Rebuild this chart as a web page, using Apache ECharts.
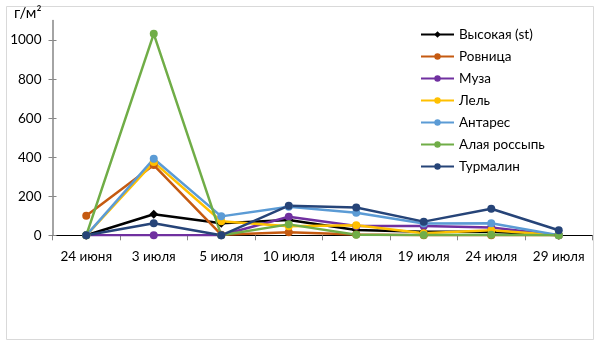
<!DOCTYPE html>
<html>
<head>
<meta charset="utf-8">
<script src="https://cdn.jsdelivr.net/npm/echarts@6/dist/echarts.min.js"></script>
<style>
  html, body { margin: 0; padding: 0; background: #fff; }
  #chart { width: 602px; height: 341px; }
</style>
</head>
<body>
<div id="chart"></div>
<script>
// Sampling dates
const dates = ['24 июня', '3 июля', '5 июля', '10 июля', '14 июля', '19 июля', '24 июля', '29 июля'];

// Biomass per variety, g/m²
const vysokaya    = [0, 108, 62, 78, 27, 18, 18, 0];
const rovnitsa    = [100, 360, 3, 15, 4, 0, 0, 0];
const muza        = [0, 0, 0, 95, 48, 48, 40, 0];
const lel         = [0, 375, 72, 46, 51, 10, 26, 0];
const antares     = [0, 392, 97, 146, 116, 60, 62, 0];
const alayaRossyp = [0, 1032, 0, 56, 3, 2, 3, 0];
const turmalin    = [0, 62, 0, 152, 142, 70, 136, 26];

const yTicks = [0, 200, 400, 600, 800, 1000];

const seriesDefs = [
  { name: 'Высокая (st)', data: vysokaya, color: '#000000', symbol: 'diamond', size: 9 },
  { name: 'Ровница', data: rovnitsa, color: '#C55A11', symbol: 'circle', size: 8 },
  { name: 'Муза', data: muza, color: '#7030A0', symbol: 'circle', size: 8 },
  { name: 'Лель', data: lel, color: '#FFC000', symbol: 'circle', size: 8 },
  { name: 'Антарес', data: antares, color: '#5B9BD5', symbol: 'circle', size: 8 },
  { name: 'Алая россыпь', data: alayaRossyp, color: '#70AD47', symbol: 'circle', size: 8 },
  { name: 'Турмалин', data: turmalin, color: '#264478', symbol: 'circle', size: 8 }
];

const FONT = 'Lato';

const chart = echarts.init(document.getElementById('chart'), null, { renderer: 'canvas' });

const yAxisBase = {
  type: 'value',
  min: 0,
  max: 1100,
  interval: 200,
  splitLine: { show: false }
};

chart.setOption({
  animation: false,
  backgroundColor: '#ffffff',
  textStyle: { fontFamily: FONT },
  graphic: [
    {
      type: 'rect',
      shape: { x: 6.5, y: 6.5, width: 587, height: 333 },
      style: { fill: 'none', stroke: '#d9d9d9', lineWidth: 1 },
      silent: true,
      z: -10
    },
    {
      type: 'text',
      left: 14,
      top: 6,
      style: { text: 'г/м²', font: '15px ' + FONT, fill: '#000' }
    }
  ],
  legend: {
    orient: 'vertical',
    left: 415,
    top: 22.5,
    itemWidth: 33,
    itemHeight: 8,
    itemGap: 8,
    textStyle: { fontFamily: FONT, fontSize: 13.5, color: '#000' },
    data: seriesDefs.map(s => s.name)
  },
  grid: {
    left: 52.5,
    top: 20.6,
    width: 540,
    height: 214.7,
    containLabel: false
  },
  xAxis: {
    type: 'category',
    data: dates,
    boundaryGap: true,
    axisLine: { lineStyle: { color: '#000', width: 1.2 } },
    axisTick: { show: true, length: 5, lineStyle: { color: '#868686' } },
    axisLabel: { fontFamily: FONT, fontSize: 13.5, color: '#000', margin: 14 }
  },
  yAxis: [
    Object.assign({}, yAxisBase, {
      axisLine: { show: true, lineStyle: { color: '#868686', width: 1.5 } },
      axisTick: { show: true, length: 4, lineStyle: { color: '#868686' }, customValues: yTicks },
      axisLabel: {
        fontFamily: FONT, fontSize: 13.5, color: '#000', margin: 11,
        customValues: yTicks,
        formatter: v => String(v)
      }
    }),
    Object.assign({}, yAxisBase, {
      position: 'left',
      axisLine: { show: false },
      axisTick: { show: true, inside: true, length: 4, lineStyle: { color: '#868686' }, customValues: yTicks },
      axisLabel: { show: false }
    })
  ],
  series: seriesDefs.map(s => ({
    name: s.name,
    type: 'line',
    data: s.data,
    symbol: s.symbol,
    symbolSize: s.size,
    showAllSymbol: true,
    lineStyle: { color: s.color, width: 2.5 },
    itemStyle: { color: s.color },
    emphasis: { disabled: true }
  }))
});
</script>
</body>
</html>
